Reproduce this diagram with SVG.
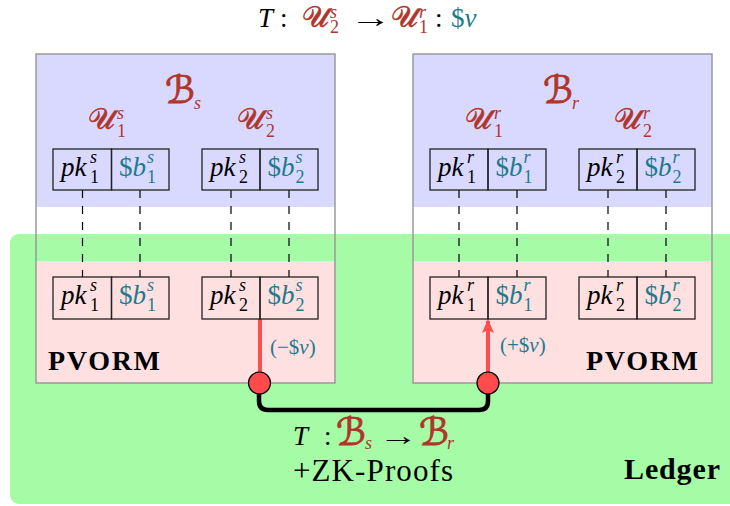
<svg xmlns="http://www.w3.org/2000/svg" width="730" height="506" viewBox="0 0 730 506">
<defs>
<style>
text{font-family:"Liberation Serif",serif}
.i{font-style:italic}
.m{font-size:27px;font-style:italic}
.u{font-size:27px;font-style:normal}
.sp{font-size:18px;font-style:italic}
.sb{font-size:18px;font-style:normal}
.scr{font-family:"DejaVu Serif","DejaVu Sans",serif;font-size:30px;font-style:normal;stroke:#B0352A;stroke-width:0.6}
.scb{font-family:"DejaVu Serif","DejaVu Sans",serif;font-size:38px;font-style:normal;stroke:#B0352A;stroke-width:0.9}
.red{fill:#B0352A}
.teal{fill:#1E7A8E}
.bold{font-weight:bold}
.cell{fill:none;stroke:#222;stroke-width:1.3}
.frame{fill:none;stroke:#9a9a9a;stroke-width:1.5}
.dash{stroke:#000;stroke-width:1.2;stroke-dasharray:8 8;fill:none}
.rl{stroke:#FF4D4D;stroke-width:4;fill:none}
.dot{fill:#FF4B4B;stroke:#000;stroke-width:1.2}
</style>
<marker id="ah" viewBox="0 0 14 12" refX="12" refY="6" markerWidth="14" markerHeight="12" markerUnits="userSpaceOnUse" orient="auto">
<path d="M0,0 L14,6 L0,12 L3,6 Z" fill="#FF4D4D"/>
</marker>
</defs>
<rect width="730" height="506" fill="#fff"/>

<g id="title">
<text class="m" x="258" y="27" font-size="25">T</text>
<text class="u" x="280" y="27" font-size="25">:</text>
<text class="scr red" x="302" y="27">𝒰</text>
<text class="sp red" x="330" y="18">s</text>
<text class="sb red" x="330" y="33">2</text>
<text class="u" transform="translate(350,27) scale(1.55,1)" x="0" y="0">→</text>
<text class="scr red" x="391" y="27">𝒰</text>
<text class="sp red" x="419" y="18">r</text>
<text class="sb red" x="419" y="33">1</text>
<text class="u" x="435" y="27" font-size="25">:</text>
<text class="u teal" x="451" y="27" font-size="26">$<tspan class="i">v</tspan></text>
</g>

<g id="ledger">
<rect x="10" y="234" width="740" height="270" rx="9" fill="#A6FBA6"/>
<text class="bold" x="624" y="479" font-size="30" textLength="96" lengthAdjust="spacing">Ledger</text>
</g>

<g id="bank-s">
<rect x="36" y="54" width="299" height="153" fill="#D9D9FF"/>
<rect x="36" y="261" width="299" height="122" fill="#FFE0E0"/>
<rect class="frame" x="36" y="54" width="299" height="329"/>
<text class="scb red" x="165" y="103">ℬ</text>
<text class="sp red" x="194" y="109">s</text>
<text class="scr red" x="88" y="129">𝒰</text>
<text class="sp red" x="117" y="119">s</text>
<text class="sb red" x="117" y="137">1</text>
<text class="scr red" x="237" y="129">𝒰</text>
<text class="sp red" x="266" y="119">s</text>
<text class="sb red" x="266" y="137">2</text>
<text class="bold" x="48" y="370" font-size="28" textLength="112" lengthAdjust="spacing">PVORM</text>
</g>

<g id="bank-r">
<rect x="413" y="54" width="299" height="153" fill="#D9D9FF"/>
<rect x="413" y="261" width="299" height="122" fill="#FFE0E0"/>
<rect class="frame" x="413" y="54" width="299" height="329"/>
<text class="scb red" x="543" y="103">ℬ</text>
<text class="sp red" x="572" y="109">r</text>
<text class="scr red" x="465" y="129">𝒰</text>
<text class="sp red" x="494" y="119">r</text>
<text class="sb red" x="494" y="137">1</text>
<text class="scr red" x="614" y="129">𝒰</text>
<text class="sp red" x="643" y="119">r</text>
<text class="sb red" x="643" y="137">2</text>
<text class="bold" x="586" y="370" font-size="28" textLength="112" lengthAdjust="spacing">PVORM</text>
</g>

<g id="connectors">
<path class="dash" d="M82.5,190V277M140,190V277M231,190V277M289,190V277M459,190V277M517,190V277M608,190V277M666,190V277"/>
<path d="M259,390V401Q259,410 268,410H479Q488,410 488,401V390" fill="none" stroke="#000" stroke-width="4.5"/>
<path class="rl" d="M260,319V383"/>
<path class="rl" d="M488,383V321" marker-end="url(#ah)"/>
<circle class="dot" cx="259.5" cy="383" r="11"/>
<circle class="dot" cx="488" cy="383" r="11"/>
<text class="teal" x="270" y="354" font-size="21">(−$<tspan class="i">v</tspan>)</text>
<text class="teal" x="500" y="352" font-size="21">(+$<tspan class="i">v</tspan>)</text>
</g>

<g id="cell-s1-top">
<rect class="cell" x="53" y="149" width="58.5" height="41"/>
<rect class="cell" x="111.5" y="149" width="57.5" height="41"/>
<text class="m" x="61" y="176">pk</text><text class="sp" x="90" y="163">s</text><text class="sb" x="90" y="183">1</text>
<text class="u teal" x="119" y="176">$<tspan class="i">b</tspan></text><text class="sp teal" x="147" y="163">s</text><text class="sb teal" x="147" y="183">1</text>
</g>
<g id="cell-s2-top">
<rect class="cell" x="202" y="149" width="58" height="41"/>
<rect class="cell" x="260" y="149" width="58" height="41"/>
<text class="m" x="210" y="176">pk</text><text class="sp" x="239" y="163">s</text><text class="sb" x="239" y="183">2</text>
<text class="u teal" x="267.5" y="176">$<tspan class="i">b</tspan></text><text class="sp teal" x="295.5" y="163">s</text><text class="sb teal" x="295.5" y="183">2</text>
</g>
<g id="cell-r1-top">
<rect class="cell" x="430" y="149" width="58" height="41"/>
<rect class="cell" x="488" y="149" width="58" height="41"/>
<text class="m" x="438" y="176">pk</text><text class="sp" x="467" y="163">r</text><text class="sb" x="467" y="183">1</text>
<text class="u teal" x="495.5" y="176">$<tspan class="i">b</tspan></text><text class="sp teal" x="523.5" y="163">r</text><text class="sb teal" x="523.5" y="183">1</text>
</g>
<g id="cell-r2-top">
<rect class="cell" x="579" y="149" width="58" height="41"/>
<rect class="cell" x="637" y="149" width="58" height="41"/>
<text class="m" x="587" y="176">pk</text><text class="sp" x="616" y="163">r</text><text class="sb" x="616" y="183">2</text>
<text class="u teal" x="644.5" y="176">$<tspan class="i">b</tspan></text><text class="sp teal" x="672.5" y="163">r</text><text class="sb teal" x="672.5" y="183">2</text>
</g>

<g id="cell-s1-bot">
<rect class="cell" x="53" y="277" width="58.5" height="42"/>
<rect class="cell" x="111.5" y="277" width="57.5" height="42"/>
<text class="m" x="61" y="304">pk</text><text class="sp" x="90" y="291">s</text><text class="sb" x="90" y="311">1</text>
<text class="u teal" x="119" y="304">$<tspan class="i">b</tspan></text><text class="sp teal" x="147" y="291">s</text><text class="sb teal" x="147" y="311">1</text>
</g>
<g id="cell-s2-bot">
<rect class="cell" x="202" y="277" width="58" height="42"/>
<rect class="cell" x="260" y="277" width="58" height="42"/>
<text class="m" x="210" y="304">pk</text><text class="sp" x="239" y="291">s</text><text class="sb" x="239" y="311">2</text>
<text class="u teal" x="267.5" y="304">$<tspan class="i">b</tspan></text><text class="sp teal" x="295.5" y="291">s</text><text class="sb teal" x="295.5" y="311">2</text>
</g>
<g id="cell-r1-bot">
<rect class="cell" x="430" y="277" width="58" height="42"/>
<rect class="cell" x="488" y="277" width="58" height="42"/>
<text class="m" x="438" y="304">pk</text><text class="sp" x="467" y="291">r</text><text class="sb" x="467" y="311">1</text>
<text class="u teal" x="495.5" y="304">$<tspan class="i">b</tspan></text><text class="sp teal" x="523.5" y="291">r</text><text class="sb teal" x="523.5" y="311">1</text>
</g>
<g id="cell-r2-bot">
<rect class="cell" x="579" y="277" width="58" height="42"/>
<rect class="cell" x="637" y="277" width="58" height="42"/>
<text class="m" x="587" y="304">pk</text><text class="sp" x="616" y="291">r</text><text class="sb" x="616" y="311">2</text>
<text class="u teal" x="644.5" y="304">$<tspan class="i">b</tspan></text><text class="sp teal" x="672.5" y="291">r</text><text class="sb teal" x="672.5" y="311">2</text>
</g>

<g id="tx-label">
<text class="m" x="293" y="445" font-size="27">T</text>
<text class="u" x="324" y="445" font-size="27">:</text>
<text class="scb red" x="336" y="445">ℬ</text>
<text class="sp red" x="365" y="449">s</text>
<text class="u" transform="translate(379,445) scale(1.45,1)" x="0" y="0">→</text>
<text class="scb red" x="419" y="445">ℬ</text>
<text class="sp red" x="447" y="449">r</text>
<text x="293" y="481" font-size="31" textLength="160" lengthAdjust="spacing">+ZK-Proofs</text>
</g>
</svg>
